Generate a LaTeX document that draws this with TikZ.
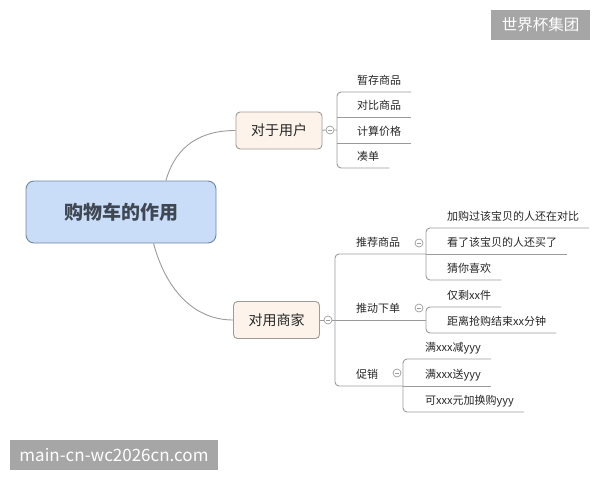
\documentclass[tikz,border=0pt]{standalone}
\usepackage{fontspec}
\setmainfont{Noto Sans CJK SC}
\usetikzlibrary{positioning}
\definecolor{lnc}{HTML}{9B9B9B}
\definecolor{rootfill}{HTML}{C9DCF8}
\definecolor{rootline}{HTML}{6E85A3}
\definecolor{roottext}{HTML}{3F4752}
\definecolor{topicfill}{HTML}{FDF3EB}
\definecolor{wmgray}{HTML}{A6A6A6}
\begin{document}
\begin{tikzpicture}[
  x=1pt,y=-1pt,
  ln/.style={draw=lnc,line width=0.9pt},
  topic/.style={draw=lnc,line width=0.9pt,rounded corners=4pt,fill=topicfill,text=black!85,font=\fontsize{14}{16}\selectfont,minimum width=86pt,minimum height=37pt},
  leaf/.style={anchor=south west,inner xsep=10pt,inner ysep=5.5pt,text height=9pt,text depth=2pt,font=\fontsize{11}{13}\selectfont,text=black!85},
  fold/.style={circle,draw=lnc,fill=white,line width=0.7pt,minimum size=8pt,inner sep=0pt,
    path picture={\draw[lnc,line width=0.6pt] ([xshift=-2pt]path picture bounding box.center) -- ([xshift=2pt]path picture bounding box.center);}},
  wmark/.style={fill=wmgray,text=white,inner sep=0pt,minimum height=30pt}
]
\useasboundingbox (0,0) rectangle (600,480);
\node[wmark,minimum width=99pt,font=\fontsize{15.5}{17}\selectfont] (wm1) at (540.5,25) {世界杯集团};
\node[wmark,minimum width=208pt,font=\fontsize{17}{19}\selectfont] (wm2) at (114,455) {main-cn-wc2026cn.com};

\node[draw=rootline,fill=rootfill,rounded corners=8pt,line width=0.9pt,minimum width=190pt,minimum height=62pt,font=\fontsize{19}{22}\selectfont\bfseries,text=roottext] (root) at (121,212) {购物车的作用};
\node[topic] (user) at (279,130.5) {对于用户};
\node[topic] (merch) at (276.5,320) {对用商家};
\draw[ln] (root.35) .. controls +(10,-35) and +(-35,0) .. (user.west);
\draw[ln] (root.-44) .. controls +(12,45) and +(-40,0) .. (merch.west);

\node[fold] (cu) at (330,130) {};
\node[fold] (cm) at (328,320) {};
\coordinate (bu) at (337,130);
\coordinate (bm) at (335,320);
\draw[ln] (user) -- (cu) -- (bu);
\draw[ln] (merch) -- (cm);

\node[leaf] (u1) at (347,92) {暂存商品};
\node[leaf] (u2) at (347,117.5) {对比商品};
\node[leaf] (u3) at (347,143) {计算价格};
\node[leaf] (u4) at (347,168) {凑单};
\draw[ln,rounded corners=4pt] (u1.south east) -| (bu) |- (u4.south east);
\foreach \n in {u2,u3} \draw[ln] (\n.south east) -- (\n.south east -| bu);

\node[leaf] (m1) at (346,254) {推荐商品};
\node[leaf] (m2) at (346,320) {推动下单};
\node[leaf] (m3) at (346,386) {促销};
\coordinate (br) at (426,254);
\coordinate (bd) at (426,320);
\coordinate (bp) at (403,386);
\draw[ln,rounded corners=4pt] (br) -| (bm) |- (bp);
\draw[ln] (cm) -- (bd);

\node[leaf] (r1) at (437,228) {加购过该宝贝的人还在对比};
\node[leaf] (r2) at (437,254) {看了该宝贝的人还买了};
\node[leaf] (r3) at (437,280) {猜你喜欢};
\draw[ln,rounded corners=4pt] (r1.south east) -| (br) |- (r3.south east);
\draw[ln] (r2.south east) -- (br);

\node[leaf] (d1) at (437,307) {仅剩xx件};
\node[leaf] (d2) at (437,333) {距离抢购结束xx分钟};
\draw[ln,rounded corners=4pt] (d1.south east) -| (bd) |- (d2.south east);

\node[leaf] (p1) at (415,359) {满xxx减yyy};
\node[leaf] (p2) at (415,386) {满xxx送yyy};
\node[leaf] (p3) at (415,412) {可xxx元加换购yyy};
\draw[ln,rounded corners=4pt] (p1.south east) -| (bp) |- (p3.south east);
\draw[ln] (p2.south east) -- (bp);

\node[fold] (cr) at (419,243) {};
\node[fold] (cd) at (419,308) {};
\node[fold] (cp) at (397,373) {};
\end{tikzpicture}
\end{document}
